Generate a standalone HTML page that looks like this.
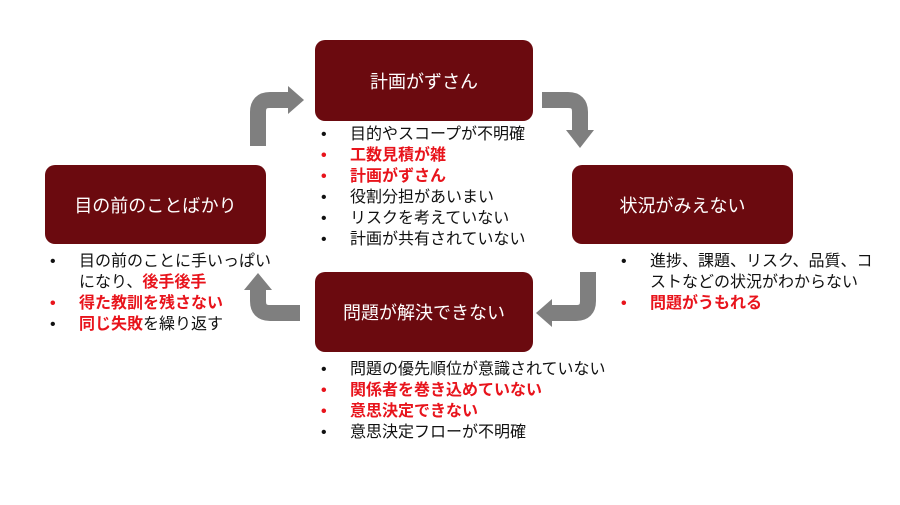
<!DOCTYPE html>
<html><head><meta charset="utf-8"><style>
body{margin:0;width:900px;height:505px;background:#fff;position:relative;overflow:hidden;font-family:"Liberation Sans","Noto Sans CJK JP",sans-serif}
.box{position:absolute;background:#6b0a0f;color:#fff;border-radius:10px;display:flex;align-items:center;justify-content:center;font-size:18px}
ul{position:absolute;margin:0;padding:0;list-style:none;font-size:16px;line-height:21px;color:#111}
li{position:relative;padding-left:32px}
li:before{content:"•";position:absolute;left:3px}
.r{color:#e8141c;font-weight:bold}
b{color:#e8141c}
</style></head><body>
<svg width="900" height="505" style="position:absolute;left:0;top:0">
<g fill="none" stroke="#7f7f7f" stroke-width="16" stroke-linejoin="round">
<path d="M258 146 V112 Q258 100 270 100 H290"/>
<path d="M542 100 H568 Q580 100 580 112 V132"/>
<path d="M588 272 V301 Q588 313 576 313 H550"/>
<path d="M300 313 H270 Q258 313 258 301 V288"/>
</g>
<g fill="#7f7f7f">
<polygon points="288,86 304,100 288,114"/>
<polygon points="566,130 594,130 580,148"/>
<polygon points="552,299 552,327 536,313"/>
<polygon points="244,290 272,290 258,273"/>
</g>
</svg>
<div class="box" style="left:315px;top:40px;width:218px;height:81px">計画がずさん</div>
<div class="box" style="left:45px;top:165px;width:221px;height:79px">目の前のことばかり</div>
<div class="box" style="left:572px;top:165px;width:221px;height:79px">状況がみえない</div>
<div class="box" style="left:315px;top:272px;width:218px;height:80px">問題が解決できない</div>
<ul style="left:318px;top:124px">
<li>目的やスコープが不明確</li>
<li class="r">工数見積が雑</li>
<li class="r">計画がずさん</li>
<li>役割分担があいまい</li>
<li>リスクを考えていない</li>
<li>計画が共有されていない</li>
</ul>
<ul style="left:47px;top:251px;width:240px">
<li>目の前のことに手いっぱい<br>になり、<b>後手後手</b></li>
<li class="r">得た教訓を残さない</li>
<li><b>同じ失敗</b>を繰り返す</li>
</ul>
<ul style="left:618px;top:251px;width:270px">
<li>進捗、課題、リスク、品質、コ<br>ストなどの状況がわからない</li>
<li class="r">問題がうもれる</li>
</ul>
<ul style="left:318px;top:359px">
<li>問題の優先順位が意識されていない</li>
<li class="r">関係者を巻き込めていない</li>
<li class="r">意思決定できない</li>
<li>意思決定フローが不明確</li>
</ul>
</body></html>
